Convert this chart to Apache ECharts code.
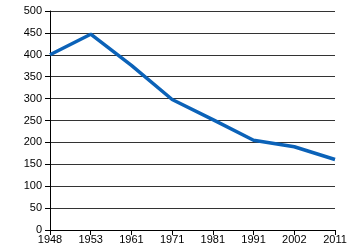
<!DOCTYPE html>
<html><head><meta charset="utf-8">
<script src="https://cdn.jsdelivr.net/npm/echarts@6/dist/echarts.min.js"></script>
<style>html,body{margin:0;padding:0;background:#fff}#c{width:350px;height:250px}</style>
</head><body><div id="c"></div>
<script>
var years = ['1948','1953','1961','1971','1981','1991','2002','2011'];
var values = [400, 447, 376, 298, 252, 205, 190, 161];
var chart = echarts.init(document.getElementById('c'), null, {renderer:'canvas'});
chart.setOption({
  animation:false,
  grid:{left:50,right:15,top:11,bottom:20},
  xAxis:{type:'category',data:years,boundaryGap:false,
    axisLine:{lineStyle:{color:'#000',width:1}},
    axisTick:{show:true,length:5,lineStyle:{color:'#000'}},
    axisLabel:{color:'#000',fontFamily:'Liberation Sans, Arial',fontSize:11,margin:4}},
  yAxis:{type:'value',min:0,max:500,interval:50,
    axisLine:{show:true,lineStyle:{color:'#000',width:1}},
    axisTick:{show:true,length:5,lineStyle:{color:'#000'}},
    axisLabel:{color:'#000',fontFamily:'Liberation Sans, Arial',fontSize:11,margin:8},
    splitLine:{lineStyle:{color:'#333',width:1}}},
  series:[{type:'line',data:values,showSymbol:false,lineStyle:{color:'#0b62b8',width:3.5},itemStyle:{color:'#0b62b8'}}]
});
</script></body></html>
